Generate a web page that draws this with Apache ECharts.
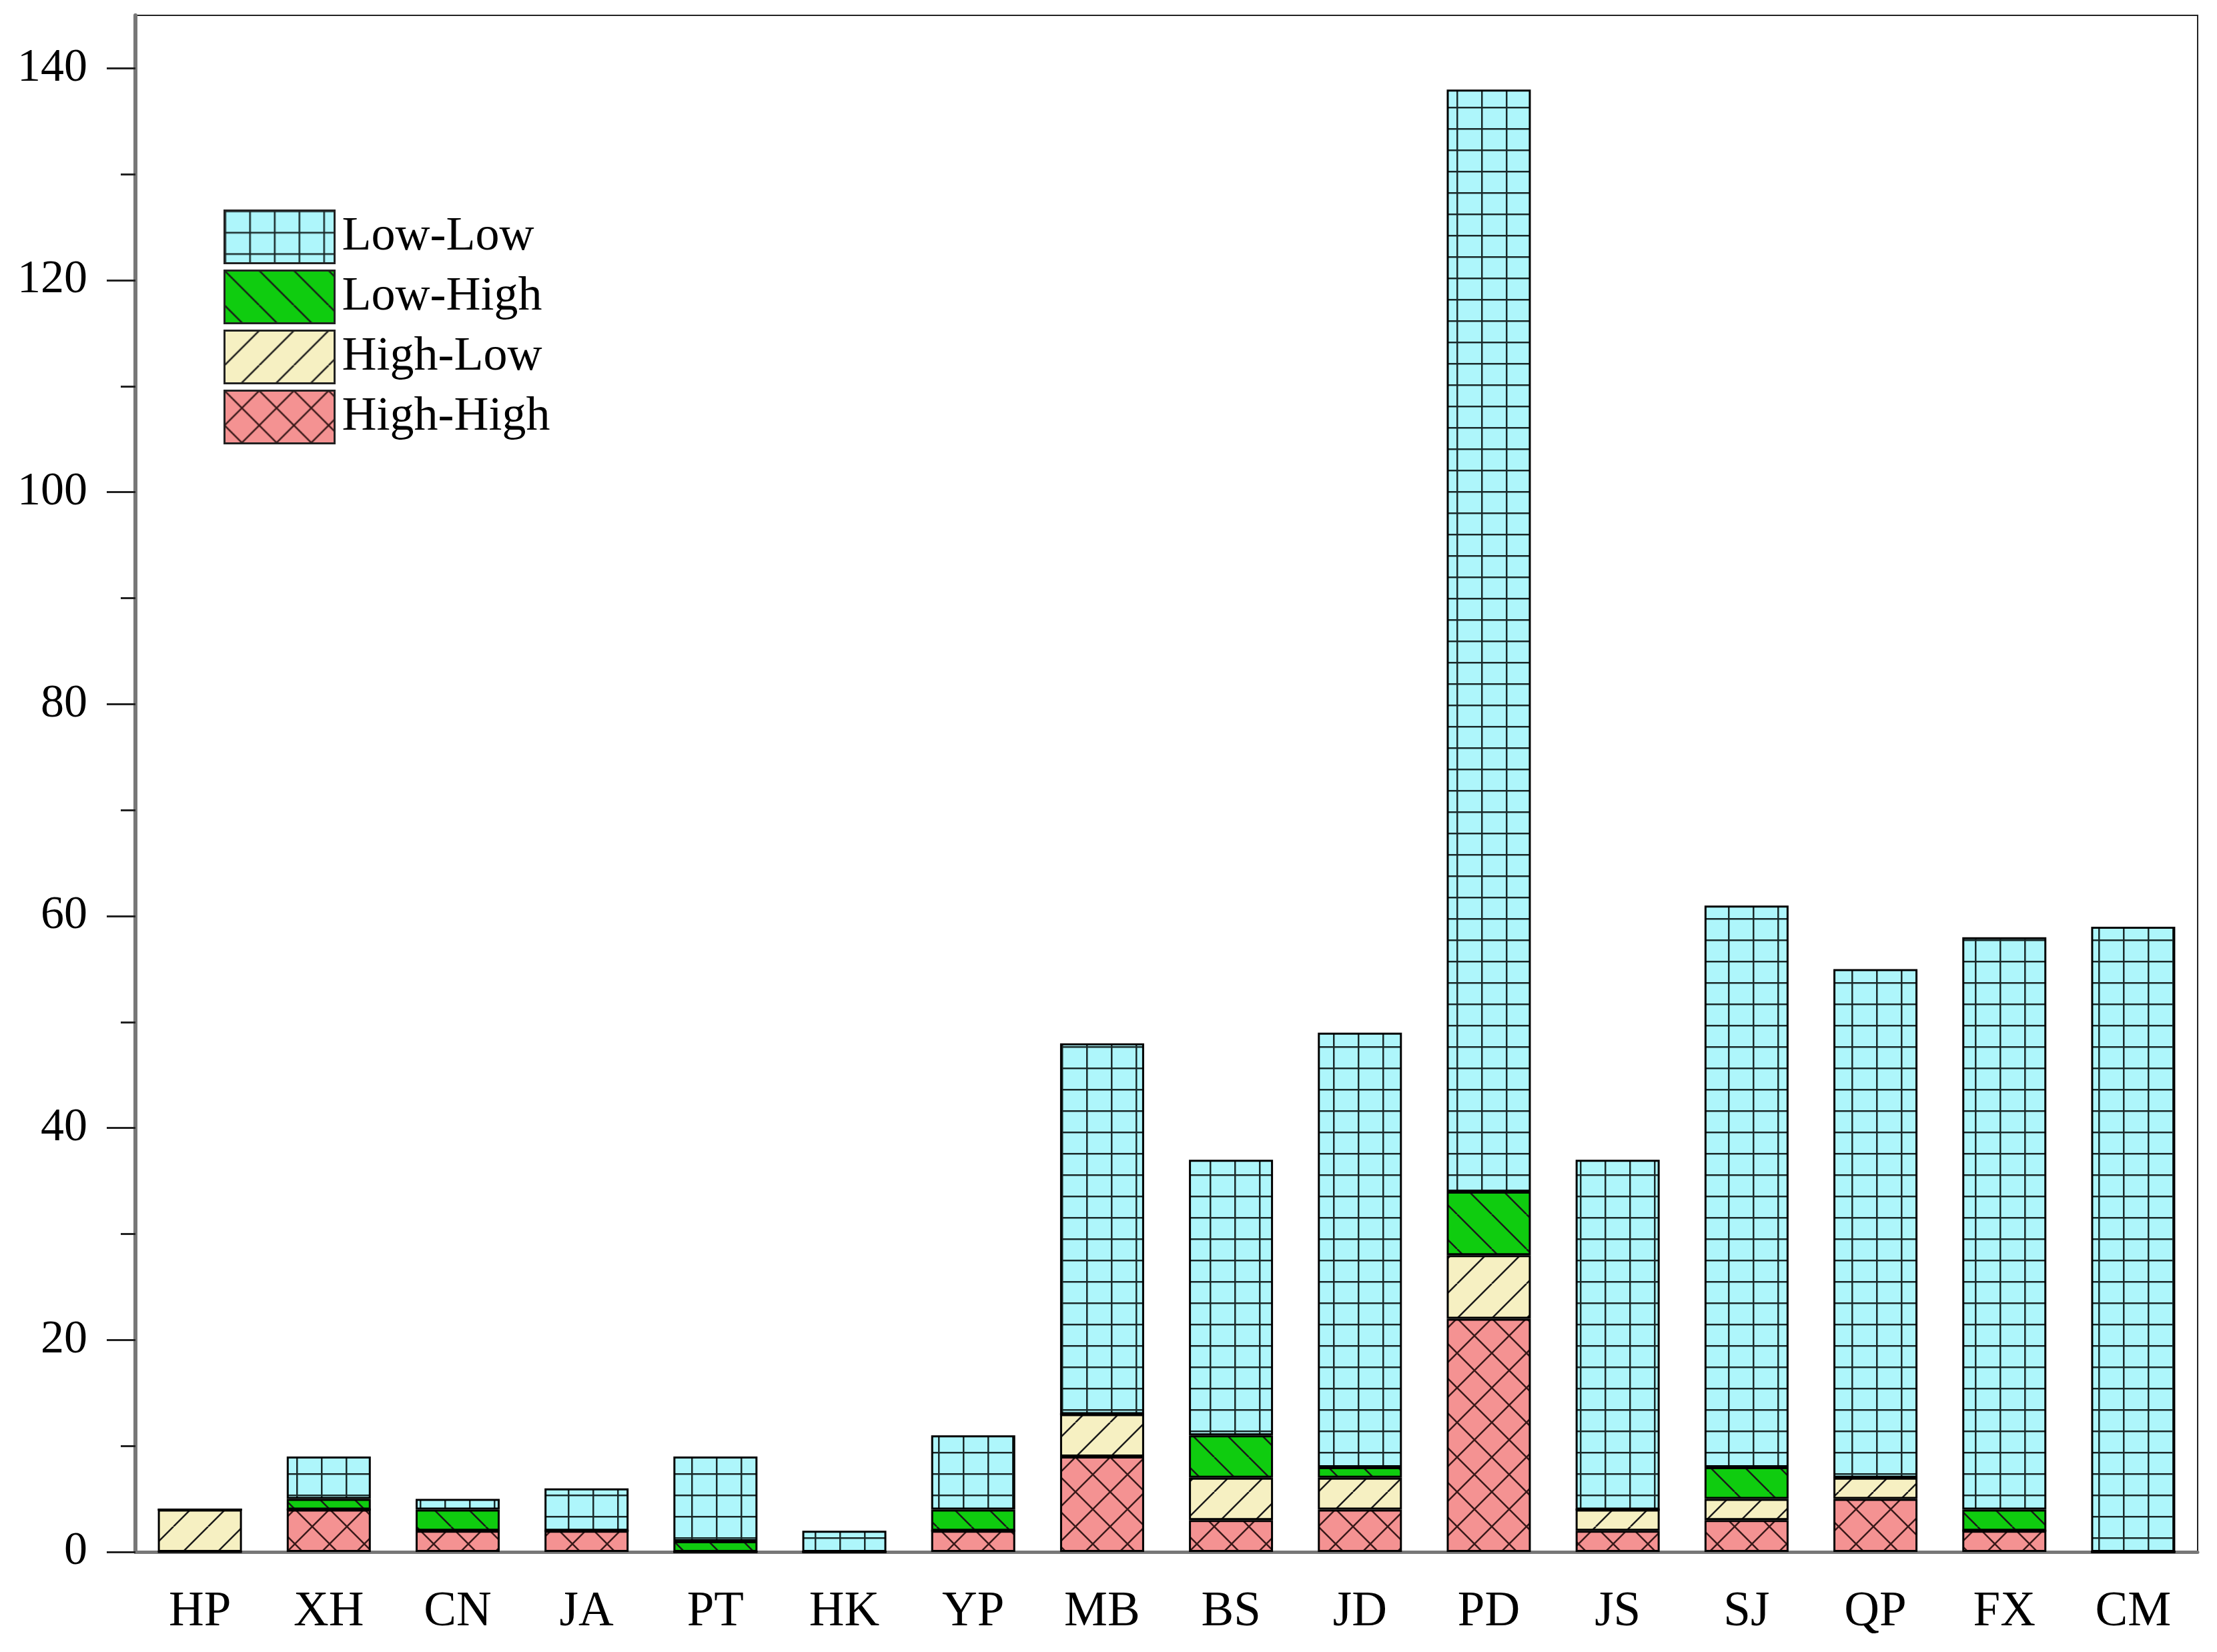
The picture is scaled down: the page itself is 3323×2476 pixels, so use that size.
<!DOCTYPE html>
<html>
<head>
<meta charset="utf-8">
<style>html,body{margin:0;padding:0;background:#fff}#c{width:3323px;height:2476px}</style>
<script src="https://cdn.jsdelivr.net/npm/echarts@6/dist/echarts.min.js"></script>
</head>
<body>
<div id="c"></div>
<script>
const categories = ['HP','XH','CN','JA','PT','HK','YP','MB','BS','JD','PD','JS','SJ','QP','FX','CM'];
const highHigh = [0,4,2,2,0,0,2,9,3,4,22,2,3,5,2,0];
const highLow  = [4,0,0,0,0,0,0,4,4,3,6,2,2,2,0,0];
const lowHigh  = [0,1,2,0,1,0,2,0,4,1,6,0,3,0,2,0];
const lowLow   = [0,4,1,4,8,2,7,35,26,41,104,33,53,48,54,59];
const yTicks = [0,20,40,60,80,100,120,140];
const yMinorTicks = [10,30,50,70,90,110,130];

function tile(w,h,bg,draw){
  const c=document.createElement('canvas');c.width=w;c.height=h;
  const g=c.getContext('2d');g.fillStyle=bg;g.fillRect(0,0,w,h);
  g.strokeStyle='#1a1a1a';g.fillStyle='#1a2a2a';g.lineWidth=2.5;draw(g,w,h);
  return {image:c,repeat:'repeat'};
}
const patLL = tile(37,32,'#aef6fb',(g,w,h)=>{g.fillRect(0,0,2.5,h);g.fillRect(0,0,w,2.5);});
const patLH = tile(52,52,'#0fcc0f',(g,s)=>{g.beginPath();for(let k=-1;k<=1;k++){g.moveTo(k*s,0);g.lineTo(k*s+s,s);}g.stroke();});
const patHL = tile(52,52,'#f6f0c2',(g,s)=>{g.beginPath();for(let k=-1;k<=1;k++){g.moveTo(k*s,s);g.lineTo(k*s+s,0);}g.stroke();});
const patHH = tile(52,52,'#f49292',(g,s)=>{g.strokeStyle='#3a1a1a';g.beginPath();for(let k=-1;k<=1;k++){g.moveTo(k*s,s);g.lineTo(k*s+s,0);g.moveTo(k*s,0);g.lineTo(k*s+s,s);}g.stroke();});

const font='Liberation Serif';
function mk(name,data,pat){
  return {name,type:'bar',stack:'t',data,barWidth:126,yAxisIndex:0,
    itemStyle:{color:pat,borderColor:'#000',borderWidth:3}};
}
const chart=echarts.init(document.getElementById('c'));
chart.setOption({
  animation:false,
  backgroundColor:'#fff',
  grid:{left:203,right:29,top:23,bottom:150,show:true,borderColor:'#222',borderWidth:2,containLabel:false},
  legend:{orient:'vertical',left:330,top:309,itemWidth:165,itemHeight:79,itemGap:8,icon:'rect',
    data:['Low-Low','Low-High','High-Low','High-High'],
    textStyle:{fontFamily:font,fontSize:72,lineHeight:79,color:'#000',padding:[0,0,0,6]},
    itemStyle:{borderColor:'#222',borderWidth:3}},
  xAxis:{type:'category',data:categories,
    axisLine:{lineStyle:{color:'#777',width:5}},
    axisTick:{alignWithLabel:true,length:42,lineStyle:{color:'#333',width:3}},
    axisLabel:{fontFamily:font,fontSize:73,color:'#000',margin:54,interval:0}},
  yAxis:[{type:'value',min:0,max:145,
    axisLine:{show:true,lineStyle:{color:'#777',width:6}},
    axisTick:{show:true,length:43,customValues:yTicks,lineStyle:{color:'#222',width:3}},
    splitLine:{show:false},
    axisLabel:{fontFamily:font,fontSize:70,color:'#000',margin:72,customValues:yTicks}},
   {type:'value',min:0,max:145,position:'left',
    axisLine:{show:false},
    axisTick:{show:true,length:22,customValues:yMinorTicks,lineStyle:{color:'#222',width:3}},
    splitLine:{show:false},
    axisLabel:{show:false}}],
  series:[mk('High-High',highHigh,patHH),mk('High-Low',highLow,patHL),mk('Low-High',lowHigh,patLH),mk('Low-Low',lowLow,patLL)]
});
</script>
</body>
</html>
